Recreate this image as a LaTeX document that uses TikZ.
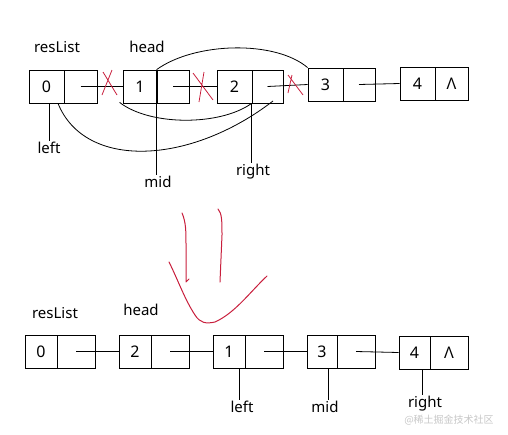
\documentclass[tikz,border=0pt]{standalone}
\usepackage{fontspec}
\setmainfont{Noto Sans}
\newfontfamily\cjk{Noto Sans CJK SC}
\usetikzlibrary{calc}
\definecolor{pen}{RGB}{200,30,60}
\begin{document}
\begin{tikzpicture}[x=1pt,y=-1pt,
  cell/.style={draw, line width=0.8pt, minimum height=33pt, inner sep=0pt, font=\fontsize{16}{18}\selectfont},
  lbl/.style={font=\fontsize{15}{17}\selectfont, inner sep=1pt},
  link/.style={line width=0.8pt},
  redx/.style={draw=pen, line width=0.8pt},
  redpen/.style={draw=pen, line width=1pt, line cap=round, line join=round}]
\useasboundingbox (0,0) rectangle (508,434);

% ---- top row ----
\node[cell, minimum width=35pt] (t0v) at (46.5,86.5) {0};
\node[cell, minimum width=33pt] (t0p) at (80.5,86.5) {};
\node[cell, minimum width=34pt] (t1v) at (140,86.5) {1};
\node[cell, minimum width=32pt] (t1p) at (173,86.5) {};
\node[cell, minimum width=35pt] (t2v) at (234.5,86.5) {2};
\node[cell, minimum width=31pt] (t2p) at (267.5,86.5) {};
\node[cell, minimum width=35pt] (t3v) at (325.5,84.5) {3};
\node[cell, minimum width=32pt] (t3p) at (359,84.5) {};
\node[cell, minimum width=35pt] (t4v) at (417.5,83.5) {4};
\node[cell, minimum width=33pt] (t4p) at (451.5,83.5) {Λ};

\node[lbl] (tres) at (57,47) {resList};
\node[lbl] (thead) at (147,47) {head};
\node[lbl] (tleft) at (49,148) {left};
\node[lbl] (tmid) at (158,182) {mid};
\node[lbl] (tright) at (253,172) {right};

\draw[link] (t0p.center) -- (t1v.west);
\draw[link] (t1p.center) -- (t2v.west);
\draw[link] (t2p.center) -- (t3v.west);
\draw[link] (t3p.center) -- (t4v.west);

\draw[link] (t1p.north west) .. controls (195,42) and (275,40) .. (t3v.north west);
\coordinate (astart) at ($(t1v.south west)+(-3,-1)$);
\draw[link] (astart) .. controls (150,126) and (220,126) .. (t2p.south west);
\coordinate (bstart) at ($(t0v.south)+(11.5,0)$);
\coordinate (bend) at (273,101);
\draw[link] (bstart) .. controls (85,170) and (190,165) .. (bend);

\draw[link] (t0v.south -| tleft) -- (tleft.north);
\draw[link] (t1p.north west) -- (t1p.north west |- tmid.north);
\draw[link] (t2p.south west) -- (t2p.south west |- tright.north);

% red crosses
\draw[redx] (103,72) -- (117,95) (112,70) -- (102,95);
\draw[redx] (193,73) -- (213,100) (204,72) -- (199,102);
\draw[redx] (288,75) -- (303,95) (292,75) -- (288,93);

% ---- hand-drawn arrow ----
\draw[redpen] (182,213) .. controls (186,222) and (186,232) .. (186,245) -- (186,282) -- (189,279);
\draw[redpen] (218,209) .. controls (222,213) and (222,222) .. (222,235) -- (220,282);
\draw[redpen] (169,262) .. controls (178,280) and (185,300) .. (195,315)
  .. controls (200,323) and (206,324) .. (215,322)
  .. controls (235,313) and (250,292) .. (267,276);

% ---- bottom row ----
\node[cell, minimum width=32pt] (b0v) at (41,351.5) {0};
\node[cell, minimum width=38pt] (b0p) at (76,351.5) {};
\node[cell, minimum width=32pt] (b2v) at (135,351.5) {2};
\node[cell, minimum width=38pt] (b2p) at (170,351.5) {};
\node[cell, minimum width=32pt] (b1v) at (229,351.5) {1};
\node[cell, minimum width=38pt] (b1p) at (264,351.5) {};
\node[cell, minimum width=30pt] (b3v) at (322,351.5) {3};
\node[cell, minimum width=38pt] (b3p) at (356,351.5) {};
\node[cell, minimum width=31pt] (b4v) at (414.5,352.5) {4};
\node[cell, minimum width=38pt] (b4p) at (449,352.5) {Λ};

\node[lbl] (bres) at (55,313) {resList};
\node[lbl] (bhead) at (141,310) {head};
\node[lbl] (bleft) at (242,407) {left};
\node[lbl] (bmid) at (325,407) {mid};
\node[lbl] (bright) at (425,404) {right};

\draw[link] (b0p.center) -- (b2v.west);
\draw[link] (b2p.center) -- (b1v.west);
\draw[link] (b1p.center) -- (b3v.west);
\draw[link] (b3p.center) -- (b4v.west);

\coordinate (bl) at ($(b1v.south)+(10,0)$);
\coordinate (bm) at ($(b3v.south)+(6,0)$);
\coordinate (br) at ($(b4v.south)+(7.5,0)$);
\draw[link] (bl) -- (bl |- bleft.north);
\draw[link] (bm) -- (bm |- bmid.north);
\draw[link] (br) -- (br |- bright.north);

\node[font=\cjk\fontsize{10}{12}\selectfont, text=black!22, inner sep=0pt] (wm) at (449,420) {@稀土掘金技术社区};
\end{tikzpicture}
\end{document}
